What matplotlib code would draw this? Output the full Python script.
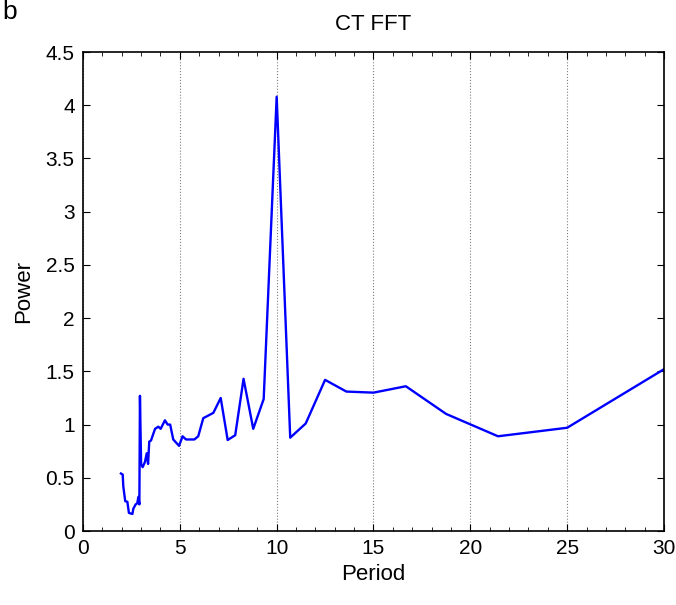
import matplotlib
matplotlib.use("Agg")
import matplotlib.pyplot as plt
from matplotlib.ticker import MultipleLocator

plt.rcParams["font.family"] = ["Liberation Sans", "DejaVu Sans"]

## values
period = [1.96, 2.05, 2.08, 2.18, 2.29, 2.37, 2.55, 2.60, 2.72, 2.80, 2.86, 2.91,
          2.94, 3.00, 3.08, 3.20, 3.29, 3.36, 3.42, 3.51, 3.72, 3.89, 4.01, 4.23,
          4.37, 4.50, 4.66, 4.96, 5.14, 5.32, 5.49, 5.75, 5.95, 6.21, 6.73, 7.11,
          7.47, 7.86, 8.29, 8.79, 9.33, 10.0, 10.7, 11.5, 12.5, 13.6, 15.0, 16.67,
          18.75, 21.43, 25.0, 30.0]
power = [0.54, 0.53, 0.42, 0.28, 0.275, 0.17, 0.16, 0.21, 0.25, 0.26, 0.32, 0.25,
         1.27, 0.63, 0.60, 0.65, 0.73, 0.63, 0.84, 0.85, 0.96, 0.98, 0.96, 1.04,
         1.00, 1.00, 0.86, 0.80, 0.89, 0.86, 0.86, 0.86, 0.89, 1.06, 1.11, 1.25,
         0.855, 0.90, 1.43, 0.96, 1.24, 4.08, 0.877, 1.01, 1.42, 1.31, 1.30, 1.36,
         1.10, 0.89, 0.97, 1.52]
yticks = [0, 0.5, 1, 1.5, 2, 2.5, 3, 3.5, 4, 4.5]
ylabels = ["0", "0.5", "1", "1.5", "2", "2.5", "3", "3.5", "4", "4.5"]

fig = plt.figure(figsize=(6.76, 6.05), dpi=100)
ax = fig.add_axes([0.1228, 0.1223, 0.8594, 0.7917])

ax.plot(period, power, color="#0000ff", linewidth=1.7)

ax.set_xlim(0, 30)
ax.set_ylim(0, 4.5)
ax.xaxis.set_major_locator(MultipleLocator(5))
ax.xaxis.set_minor_locator(MultipleLocator(1))
ax.set_yticks(yticks)
ax.set_yticklabels(ylabels)
ax.tick_params(which="both", direction="in", top=True, right=True, labelsize=15)
ax.tick_params(axis="x", pad=6)
ax.tick_params(axis="y", pad=6)
ax.tick_params(which="major", length=5)
ax.tick_params(which="minor", length=3)
ax.xaxis.grid(True, which="major", linestyle=":", color="#808080", linewidth=0.8)
for s in ax.spines.values():
    s.set_linewidth(1.2)

ax.set_xlabel("Period", fontsize=16, labelpad=4)
ax.set_ylabel("Power", fontsize=16, labelpad=8)
ax.set_title("CT FFT", fontsize=16, pad=16)
fig.text(0.003, 1.0, "b", fontsize=19, va="top", ha="left")

fig.savefig("out.png", dpi=100)
